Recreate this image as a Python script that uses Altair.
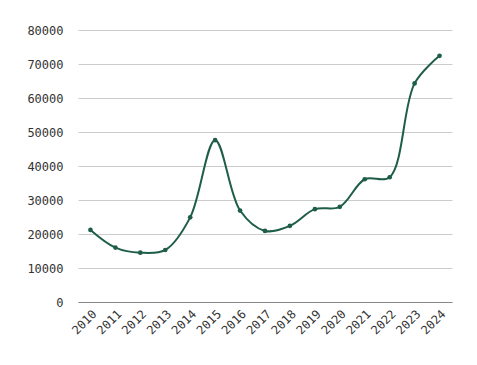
import altair as alt
import pandas as pd

years = [str(y) for y in range(2010, 2025)]
values = [21200, 16000, 14500, 15300, 24900, 47600, 26900, 20900, 22400,
          27300, 28000, 36100, 36700, 64300, 72400]

df = pd.DataFrame({"year": years, "value": values})

FONT = "DejaVu Sans Mono"
COLOR = "#1e5e46"

x = alt.X("year:N", scale=alt.Scale(type="point", padding=0.5),
          axis=alt.Axis(title=None, labelAngle=-45, ticks=False,
                        domainColor="#888888", labelFontSize=12,
                        labelFont=FONT, labelColor="#333333", labelPadding=6))
y = alt.Y("value:Q", scale=alt.Scale(domain=[0, 80000]),
          axis=alt.Axis(title=None, values=list(range(0, 80001, 10000)),
                        ticks=False, domain=False, gridColor="#cccccc",
                        labelFontSize=12, labelFont=FONT, labelColor="#333333",
                        labelPadding=15, format="d"))

line = alt.Chart(df).mark_line(interpolate="catmull-rom", color=COLOR, strokeWidth=2).encode(x=x, y=y)
pts = alt.Chart(df).mark_point(filled=True, color=COLOR, size=22, opacity=1).encode(x=x, y=y)

chart = (line + pts).properties(
    width=374, height=272,
    padding={"left": 18, "top": 16, "right": 5, "bottom": 5},
).configure_view(stroke=None)

chart.save("out.html", embed_options={"renderer": "svg", "actions": False})
